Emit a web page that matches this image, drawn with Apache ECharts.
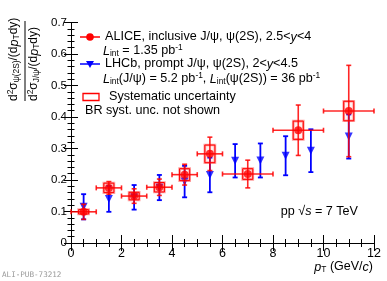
<!DOCTYPE html>
<html><head><meta charset="utf-8">
<script src="https://cdn.jsdelivr.net/npm/echarts@6/dist/echarts.min.js"></script>
<style>html,body{margin:0;padding:0;background:#fff}#c{width:387px;height:281px}</style>
</head><body><div id="c"></div>
<script>
// ALICE inclusive psi(2S)/J/psi ratio
const aliceX = [0.5, 1.5, 2.5, 3.5, 4.5, 5.5, 7, 9, 11];
const aliceXErr = [0.5, 0.5, 0.5, 0.5, 0.5, 0.5, 1, 1, 1];
const aliceY = [0.099, 0.175, 0.149, 0.177, 0.217, 0.283, 0.219, 0.358, 0.419];
const aliceStat = [0.024, 0.020, 0.023, 0.026, 0.033, 0.053, 0.044, 0.080, 0.145];
const aliceSyst = [0.007, 0.015, 0.012, 0.015, 0.019, 0.028, 0.017, 0.029, 0.031];
const systHalfWidth = 0.2;
// LHCb prompt
const lhcbX = [0.5, 1.5, 2.5, 3.5, 4.5, 5.5, 6.5, 7.5, 8.5, 9.5, 11];
const lhcbY = [0.115, 0.140, 0.145, 0.176, 0.195, 0.216, 0.261, 0.262, 0.277, 0.293, 0.338];
const lhcbErr = [0.040, 0.041, 0.039, 0.040, 0.050, 0.055, 0.053, 0.054, 0.062, 0.068, 0.070];
const xTicks = [0, 2, 4, 6, 8, 10, 12];
const yTicks = [0, 0.1, 0.2, 0.3, 0.4, 0.5, 0.6, 0.7];

const FONT = '"Liberation Sans", Arial, Helvetica, sans-serif';
const RED = '#ff0000', BLUE = '#0000ff';
const FS = 12.6;
const rich = {
  i: {fontStyle: 'italic', fontSize: FS, fontFamily: FONT, lineHeight: 14, verticalAlign: 'middle'},
  sub: {fontSize: 8.4, fontFamily: FONT, lineHeight: 8, verticalAlign: 'bottom'},
  sup: {fontSize: 8.4, fontFamily: FONT, lineHeight: 8, verticalAlign: 'top'}
};
function txt(x, y, text, opts) {
  return {type: 'text', x: x, y: y, z: 50, style: Object.assign({
    text: text, fontSize: FS, fontFamily: FONT, fill: '#000', lineHeight: 14,
    align: 'left', verticalAlign: 'middle', rich: rich}, opts || {})};
}

const chart = echarts.init(document.getElementById('c'), null, {renderer: 'canvas'});

function errRender(color, lw, useX) {
  return function (params, api) {
    const x = api.value(0), y = api.value(1), ex = api.value(2), ey = api.value(3);
    const t = api.coord([x, y + ey]), b = api.coord([x, y - ey]);
    const cap = 2.5;
    const st = {stroke: color, lineWidth: lw};
    const ch = [
      {type: 'line', shape: {x1: t[0], y1: t[1], x2: b[0], y2: b[1]}, style: st},
      {type: 'line', shape: {x1: t[0] - cap, y1: t[1], x2: t[0] + cap, y2: t[1]}, style: st},
      {type: 'line', shape: {x1: b[0] - cap, y1: b[1], x2: b[0] + cap, y2: b[1]}, style: st}
    ];
    if (useX) {
      const l = api.coord([x - ex, y]), r = api.coord([x + ex, y]);
      ch.push({type: 'line', shape: {x1: l[0], y1: l[1], x2: r[0], y2: r[1]}, style: st});
      ch.push({type: 'line', shape: {x1: l[0], y1: l[1] - cap, x2: l[0], y2: l[1] + cap}, style: st});
      ch.push({type: 'line', shape: {x1: r[0], y1: r[1] - cap, x2: r[0], y2: r[1] + cap}, style: st});
    }
    return {type: 'group', children: ch};
  };
}
function boxRender(params, api) {
  const x = api.value(0), y = api.value(1), ey = api.value(2);
  const p1 = api.coord([x - systHalfWidth, y + ey]);
  const p2 = api.coord([x + systHalfWidth, y - ey]);
  return {type: 'group', children: [
    {type: 'rect', shape: {x: p1[0], y: p1[1], width: p2[0] - p1[0], height: p2[1] - p1[1]},
     style: {fill: 'rgba(255,0,0,0.06)', stroke: 'rgba(255,80,80,0.55)', lineWidth: 2.6}},
    {type: 'rect', shape: {x: p1[0], y: p1[1], width: p2[0] - p1[0], height: p2[1] - p1[1]},
     style: {fill: 'none', stroke: RED, lineWidth: 1}}
  ]};
}

const axisCommon = {
  min: 0, axisLine: {show: true, lineStyle: {color: '#000', width: 1}},
  splitLine: {show: false}
};
const xBase = Object.assign({}, axisCommon, {
  type: 'value', max: 12, interval: 2,
  axisTick: {show: true, inside: true, length: 8, lineStyle: {color: '#000'}},
  minorTick: {show: true, splitNumber: 4, length: 4, lineStyle: {color: '#000'}}
});
const yBase = Object.assign({}, axisCommon, {
  type: 'value', max: 0.7, interval: 0.1,
  axisTick: {show: true, inside: true, length: 7, lineStyle: {color: '#000'}},
  minorTick: {show: true, splitNumber: 5, length: 3.5, lineStyle: {color: '#000'}}
});

const option = {
  animation: false,
  backgroundColor: '#fff',
  grid: {left: 71, right: 13, top: 22.5, bottom: 38, containLabel: false},
  xAxis: [
    Object.assign({}, xBase, {position: 'bottom',
      axisLabel: {show: true, margin: 4, fontSize: 12.5, fontFamily: FONT, color: '#000',
        formatter: v => xTicks.indexOf(v) >= 0 ? String(v) : ''}}),
    Object.assign({}, xBase, {position: 'top', axisLabel: {show: false}})
  ],
  yAxis: [
    Object.assign({}, yBase, {position: 'left',
      axisLabel: {show: true, margin: 4, fontSize: 11.5, fontFamily: FONT, color: '#000',
        formatter: v => { const k = yTicks.findIndex(t => Math.abs(t - v) < 1e-9); return k >= 0 ? (k === 0 ? '0' : yTicks[k].toFixed(1)) : ''; }}}),
    Object.assign({}, yBase, {position: 'right', axisLabel: {show: false}})
  ],
  series: [
    {type: 'custom', name: 'lhcbErr', renderItem: errRender(BLUE, 1.8, false), z: 2,
     data: lhcbX.map((x, i) => [x, lhcbY[i], 0, lhcbErr[i]])},
    {type: 'scatter', name: 'LHCb', symbol: 'triangle', symbolRotate: 180, symbolSize: 8, z: 3,
     itemStyle: {color: BLUE}, data: lhcbX.map((x, i) => [x, lhcbY[i]])},
    {type: 'custom', name: 'aliceSyst', renderItem: boxRender, z: 4,
     data: aliceX.map((x, i) => [x, aliceY[i], aliceSyst[i]])},
    {type: 'custom', name: 'aliceErr', renderItem: errRender('rgba(255,0,0,0.85)', 1.6, true), z: 5,
     data: aliceX.map((x, i) => [x, aliceY[i], aliceXErr[i], aliceStat[i]])},
    {type: 'scatter', name: 'ALICE', symbol: 'circle', symbolSize: 8, z: 6,
     itemStyle: {color: RED}, data: aliceX.map((x, i) => [x, aliceY[i]])}
  ],
  graphic: [
    // y-axis title
    {type: 'group', x: 25, y: 61, rotation: Math.PI / 2, z: 50, children: [
      {type: 'text', x: -40, y: -4, style: {text: 'd{sup|2}σ{sub|ψ(2S)}/(d{i|p}{sub|T}dy)', fontSize: 12, fontFamily: FONT,
        lineHeight: 14, fill: '#000', align: 'left', verticalAlign: 'bottom', rich: rich}},
      {type: 'line', shape: {x1: -40, y1: 0, x2: 40, y2: 0}, style: {stroke: '#000', lineWidth: 1}},
      {type: 'text', x: -40, y: 2, style: {text: 'd{sup|2}σ{sub|J/ψ}/(d{i|p}{sub|T}dy)', fontSize: 12, fontFamily: FONT,
        lineHeight: 14, fill: '#000', align: 'left', verticalAlign: 'top', rich: rich}}
    ]},
    // x-axis title
    txt(373, 267, '{i|p}{sub|T} (GeV/{i|c})', {align: 'right', fontSize: 12.5}),
    // legend
    {type: 'line', shape: {x1: 80, y1: 37, x2: 100, y2: 37}, style: {stroke: RED, lineWidth: 1.5}, z: 50},
    {type: 'circle', shape: {cx: 90, cy: 37, r: 3.8}, style: {fill: RED}, z: 51},
    txt(105, 37, 'ALICE, inclusive J/ψ, ψ(2S), 2.5<{i|y}<4'),
    txt(103, 51, '{i|L}{sub|int} = 1.35 pb{sup|-1}'),
    {type: 'line', shape: {x1: 80, y1: 64, x2: 100, y2: 64}, style: {stroke: BLUE, lineWidth: 1.5}, z: 50},
    {type: 'polygon', shape: {points: [[86, 61], [94, 61], [90, 68]]}, style: {fill: BLUE}, z: 51},
    txt(105, 64, 'LHCb, prompt J/ψ, ψ(2S), 2<{i|y}<4.5'),
    txt(103, 79, '{i|L}{sub|int}(J/ψ) = 5.2 pb{sup|-1}, {i|L}{sub|int}(ψ(2S)) = 36 pb{sup|-1}'),
    {type: 'rect', shape: {x: 83, y: 93.5, width: 16, height: 7}, style: {fill: 'none', stroke: RED, lineWidth: 1.3}, z: 50},
    txt(109, 97, 'Systematic uncertainty'),
    txt(85, 111, 'BR syst. unc. not shown'),
    txt(358, 211.5, 'pp √{i|s} = 7 TeV', {align: 'right'}),
    txt(2, 275, 'ALI-PUB-73212', {fontFamily: '"DejaVu Sans Mono", monospace', fontSize: 7.6, fill: '#999', rich: {}})
  ]
};
chart.setOption(option);
</script></body></html>
